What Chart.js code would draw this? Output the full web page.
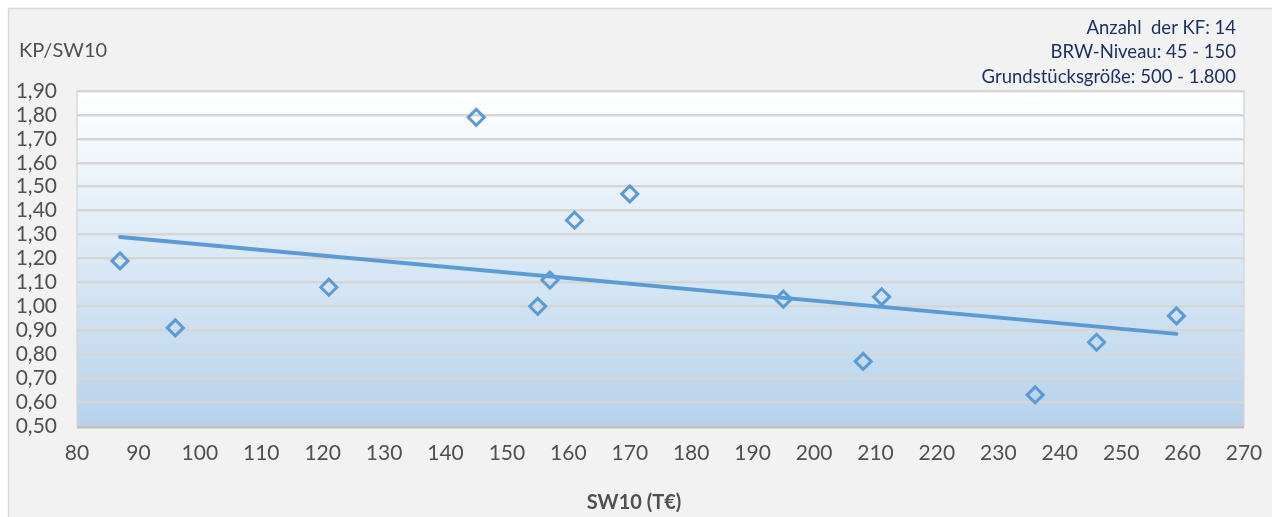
<!DOCTYPE html>
<html>
<head>
<meta charset="utf-8">
<script src="https://cdn.jsdelivr.net/npm/chart.js@4"></script>
<style>
  html, body { margin: 0; padding: 0; background: #ffffff; }
  #wrap { width: 1272px; height: 517px; }
</style>
</head>
<body>
<div id="wrap"><canvas id="myChart" width="1272" height="517"></canvas></div>
<script>
// Werte
const sw10 = [87, 96, 121, 145, 155, 157, 161, 170, 195, 208, 211, 236, 246, 259];
const kpSw10 = [1.19, 0.91, 1.08, 1.79, 1.00, 1.11, 1.36, 1.47, 1.03, 0.77, 1.04, 0.63, 0.85, 0.96];
const trendX = [87, 259];
const trendY = [1.29, 0.885];
const xTicks = [80, 90, 100, 110, 120, 130, 140, 150, 160, 170, 180, 190, 200, 210, 220, 230, 240, 250, 260, 270];
const yTicks = [0.5, 0.6, 0.7, 0.8, 0.9, 1.0, 1.1, 1.2, 1.3, 1.4, 1.5, 1.6, 1.7, 1.8, 1.9];
const infoLines = ['Anzahl  der KF: 14', 'BRW-Niveau: 45 - 150', 'Grundstücksgröße: 500 - 1.800'];

const FONT = 'Lato, "Open Sans", sans-serif';
const GREY = '#505050';
const BLUE = '#5b9bd5';

// Hintergrund, Rahmen und Verlauf im Diagrammbereich
const backdrop = {
    id: 'backdrop',
    beforeDraw(chart) {
        const { ctx, chartArea: a, width, height } = chart;
        ctx.save();
        ctx.fillStyle = '#ffffff';
        ctx.fillRect(0, 0, width, height);
        ctx.fillStyle = '#f2f2f2';
        ctx.fillRect(8, 8, width - 8, height - 8);
        ctx.strokeStyle = '#d9d9d9';
        ctx.lineWidth = 1.5;
        ctx.beginPath();
        ctx.moveTo(8.5, height);
        ctx.lineTo(8.5, 8.5);
        ctx.lineTo(width, 8.5);
        ctx.stroke();

        const g = ctx.createLinearGradient(0, a.top, 0, a.bottom);
        g.addColorStop(0, '#ffffff');
        g.addColorStop(1, '#b6d2eb');
        ctx.fillStyle = g;
        ctx.fillRect(a.left, a.top, a.right - a.left, a.bottom - a.top);
        ctx.strokeStyle = '#d9d9d9';
        ctx.lineWidth = 1.5;
        ctx.strokeRect(a.left, a.top, a.right - a.left, a.bottom - a.top);
        ctx.restore();
    },
    afterDraw(chart) {
        const { ctx, chartArea: a } = chart;
        ctx.save();
        // untere Achsenlinie
        ctx.strokeStyle = '#bfbfbf';
        ctx.lineWidth = 3;
        ctx.beginPath();
        ctx.moveTo(a.left, a.bottom + 1);
        ctx.lineTo(a.right, a.bottom + 1);
        ctx.stroke();

        ctx.fillStyle = GREY;
        ctx.font = '20px ' + FONT;
        ctx.textBaseline = 'middle';
        ctx.textAlign = 'left';
        ctx.fillText('KP/SW10', 19, 51);

        // Achsentitel
        ctx.font = 'bold 20px ' + FONT;
        ctx.textAlign = 'center';
        ctx.fillText('SW10 (T€)', 634, 503);

        ctx.fillStyle = '#1c3260';
        ctx.font = '18.5px ' + FONT;
        ctx.textAlign = 'right';
        infoLines.forEach((t, i) => ctx.fillText(t, 1236, 28 + i * 24.5));
        ctx.restore();
    }
};

const ctx = document.getElementById('myChart').getContext('2d');
new Chart(ctx, {
    type: 'scatter',
    data: {
        datasets: [
            {
                label: 'KP/SW10',
                data: sw10.map((x, i) => ({ x: x, y: kpSw10[i] })),
                pointStyle: 'rectRot',
                pointRadius: 8,
                pointBorderWidth: 3,
                pointBorderColor: BLUE,
                pointBackgroundColor: 'rgba(0,0,0,0)',
                showLine: false
            },
            {
                label: 'Trend',
                data: trendX.map((x, i) => ({ x: x, y: trendY[i] })),
                showLine: true,
                borderColor: BLUE,
                borderWidth: 4,
                borderCapStyle: 'round',
                pointRadius: 0
            }
        ]
    },
    options: {
        responsive: false,
        animation: false,
        layout: { padding: { top: 91, right: 28, left: 0, bottom: 0 } },
        plugins: {
            legend: { display: false },
            tooltip: { enabled: false }
        },
        scales: {
            x: {
                type: 'linear',
                min: 80,
                max: 270,
                afterBuildTicks(scale) {
                    scale.ticks = xTicks.map(v => ({ value: v }));
                },
                grid: { display: false },
                border: { display: false },
                ticks: { color: GREY, font: { size: 21, family: FONT }, padding: 7, maxRotation: 0, autoSkip: false },
                afterFit(scale) { scale.height = 91; }
            },
            y: {
                min: 0.5,
                max: 1.9,
                afterBuildTicks(scale) {
                    scale.ticks = yTicks.map(v => ({ value: v }));
                },
                grid: { color: '#d6d6d6', lineWidth: 2.5, drawTicks: false },
                border: { display: false },
                ticks: {
                    color: GREY,
                    font: { size: 21, family: FONT, lineHeight: 1 },
                    padding: 20,
                    autoSkip: false,
                    callback: v => v.toFixed(2).replace('.', ',')
                },
                afterFit(scale) { scale.width = 77; }
            }
        }
    },
    plugins: [backdrop]
});
</script>
</body>
</html>
